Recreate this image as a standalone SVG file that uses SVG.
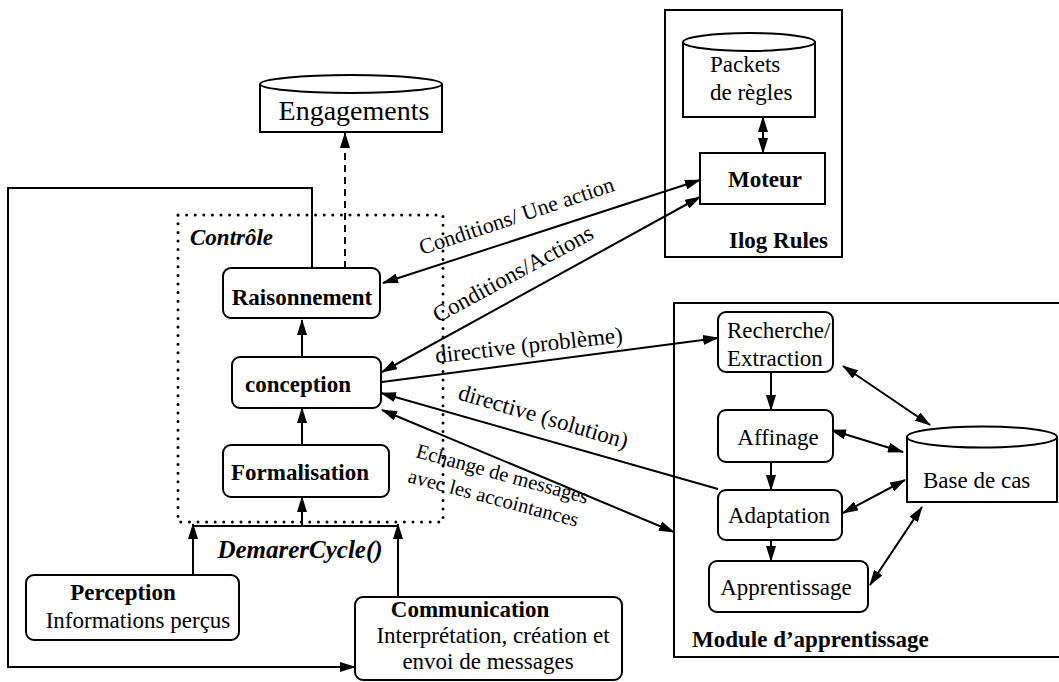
<svg xmlns="http://www.w3.org/2000/svg" width="1059" height="682" viewBox="0 0 1059 682">
<style>
text{font-family:"Liberation Serif","Times New Roman",serif;fill:#000}
.b{font-weight:bold}
.bi{font-weight:bold;font-style:italic}
.n{font-size:23px}
.box{fill:#fff;stroke:#000;stroke-width:2}
.cyl{fill:#fff;stroke:#000;stroke-width:2}
.ln{fill:none;stroke:#000;stroke-width:2}
.ar{marker-end:url(#ah)}
.dar{marker-start:url(#ah);marker-end:url(#ah)}
</style>
<defs>
<marker id="ah" viewBox="0 0 16 10" refX="15" refY="5" markerWidth="16" markerHeight="10" orient="auto-start-reverse" markerUnits="userSpaceOnUse">
<path d="M0,0 L16,5 L0,10 z" fill="#000"/>
</marker>
</defs>
<rect width="1059" height="682" fill="#fff"/>

<g id="control-frame">
<rect x="178" y="215" width="265" height="307" fill="none" stroke="#000" stroke-width="3" stroke-linecap="round" stroke-dasharray="0 8.6"/>
<text x="190" y="245" class="bi n">Contrôle</text>
</g>

<g id="ilog-frame">
<rect x="665" y="10" width="177" height="247" class="box"/>
<text x="828" y="248" class="b n" text-anchor="end">Ilog Rules</text>
</g>

<g id="module-frame">
<rect x="674" y="303" width="392" height="354" class="box"/>
<text x="692" y="647" class="b n">Module d’apprentissage</text>
</g>

<g id="connectors">
<path class="ln ar" d="M312,268 V188 H8 V667 H355"/>
<line class="ln ar" x1="345" y1="268" x2="345" y2="133" stroke-dasharray="7 5"/>
<line class="ln dar" x1="383" y1="283" x2="700" y2="180"/>
<line class="ln dar" x1="382" y1="372" x2="700" y2="197"/>
<line class="ln ar" x1="382" y1="382" x2="718" y2="338"/>
<line class="ln ar" x1="718" y1="489" x2="381" y2="393"/>
<line class="ln dar" x1="382" y1="410" x2="674" y2="532"/>
<line class="ln dar" x1="763" y1="117" x2="763" y2="153"/>
<line class="ln ar" x1="771" y1="372" x2="771" y2="410"/>
<line class="ln ar" x1="771" y1="462" x2="771" y2="490"/>
<line class="ln ar" x1="771" y1="540" x2="771" y2="561"/>
<line class="ln dar" x1="843" y1="366" x2="930" y2="425"/>
<line class="ln dar" x1="831" y1="430" x2="903" y2="452"/>
<line class="ln dar" x1="843" y1="513" x2="905" y2="480"/>
<line class="ln dar" x1="870" y1="585" x2="922" y2="507"/>
<line class="ln ar" x1="302" y1="445" x2="302" y2="408"/>
<line class="ln ar" x1="302" y1="357" x2="302" y2="320"/>
<line class="ln" x1="193" y1="526" x2="398" y2="526"/>
<line class="ln ar" x1="193" y1="575" x2="193" y2="524"/>
<line class="ln ar" x1="398" y1="597" x2="398" y2="524"/>
<line class="ln ar" x1="302" y1="526" x2="302" y2="497"/>
<text x="422" y="255" font-size="22" transform="rotate(-18.4 422 255)">Conditions/ Une action</text>
<text x="438" y="323" font-size="23" transform="rotate(-28.5 438 323)">Conditions/Actions</text>
<text x="436" y="363" font-size="23" transform="rotate(-6.3 436 363)">directive (problème)</text>
<text x="457" y="399" font-size="23" transform="rotate(16.4 457 399)">directive (solution)</text>
<text x="415" y="457" font-size="20.5" transform="rotate(15.3 415 457)">Echange de messages</text>
<text x="407" y="482" font-size="20.5" transform="rotate(14.8 407 482)">avec les accointances</text>
<text x="300" y="558" class="bi" font-size="25" text-anchor="middle">DemarerCycle()</text>
</g>

<g id="engagements">
<path class="cyl" d="M260,84 V132 H442 V84"/>
<ellipse cx="351" cy="84" rx="91" ry="9" class="cyl"/>
<text x="354" y="120" font-size="28" text-anchor="middle">Engagements</text>
</g>

<g id="packets">
<path class="cyl" d="M683,42 V117 H815 V42"/>
<ellipse cx="749" cy="42" rx="66" ry="9" class="cyl"/>
<text x="710" y="72" class="n">Packets</text>
<text x="710" y="100" class="n">de règles</text>
</g>

<g id="moteur">
<rect x="700" y="153" width="125" height="51" class="box"/>
<text x="765" y="187" class="b n" text-anchor="middle">Moteur</text>
</g>

<g id="raisonnement">
<rect x="223" y="268" width="157" height="50" rx="8" class="box"/>
<text x="302" y="305" class="b n" text-anchor="middle">Raisonnement</text>
</g>

<g id="conception">
<rect x="232" y="357" width="149" height="51" rx="8" class="box"/>
<text x="298" y="392" class="b n" text-anchor="middle">conception</text>
</g>

<g id="formalisation">
<rect x="223" y="445" width="166" height="52" rx="8" class="box"/>
<text x="300" y="480" class="b n" text-anchor="middle">Formalisation</text>
</g>

<g id="perception">
<rect x="26" y="575" width="213" height="65" rx="8" class="box"/>
<text x="123" y="600" class="b n" text-anchor="middle">Perception</text>
<text x="138" y="628" class="n" text-anchor="middle">Informations perçus</text>
</g>

<g id="communication">
<rect x="355" y="597" width="267" height="83" rx="8" class="box"/>
<text x="470" y="617" class="b n" text-anchor="middle">Communication</text>
<text x="493" y="643" class="n" text-anchor="middle">Interprétation, création et</text>
<text x="488" y="669" class="n" text-anchor="middle">envoi de messages</text>
</g>

<g id="recherche">
<rect x="718" y="312" width="115" height="60" rx="8" class="box"/>
<text x="727" y="338" class="n">Recherche/</text>
<text x="727" y="366" class="n">Extraction</text>
</g>

<g id="affinage">
<rect x="718" y="410" width="115" height="52" rx="8" class="box"/>
<text x="778" y="445" class="n" text-anchor="middle">Affinage</text>
</g>

<g id="adaptation">
<rect x="718" y="490" width="124" height="50" rx="8" class="box"/>
<text x="779" y="523" class="n" text-anchor="middle">Adaptation</text>
</g>

<g id="apprentissage">
<rect x="709" y="561" width="159" height="51" rx="8" class="box"/>
<text x="786" y="595" class="n" text-anchor="middle">Apprentissage</text>
</g>

<g id="base-de-cas">
<path class="cyl" d="M907,437 V502 H1057 V437"/>
<ellipse cx="982" cy="437" rx="75" ry="10.5" class="cyl"/>
<text x="923" y="488" class="n">Base de cas</text>
</g>
</svg>
